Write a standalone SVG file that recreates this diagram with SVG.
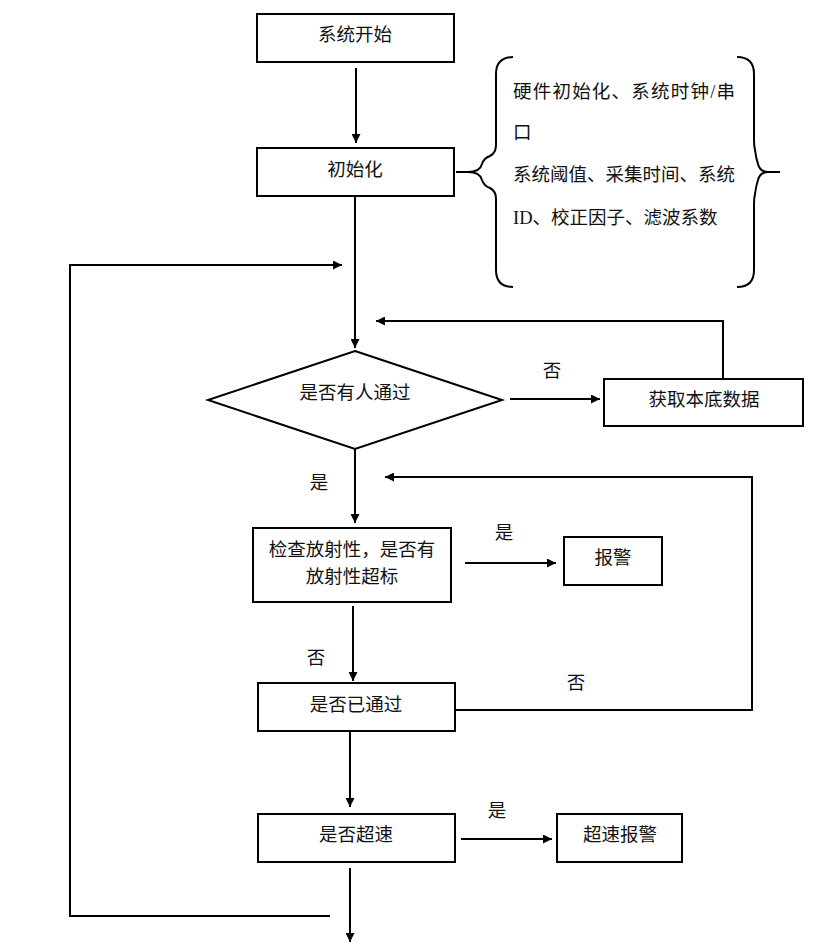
<svg xmlns="http://www.w3.org/2000/svg" width="830" height="947" viewBox="0 0 830 947">
<defs>
<marker id="arr" viewBox="0 0 10 10" refX="10" refY="5" markerWidth="11" markerHeight="9" markerUnits="userSpaceOnUse" orient="auto">
<path d="M0,0 L10,5 L0,10 z" fill="#000"/>
</marker>
<style>
.box{fill:#fff;stroke:#000;stroke-width:2}
.ln{fill:none;stroke:#000;stroke-width:2}
.ar{fill:none;stroke:#000;stroke-width:2;marker-end:url(#arr)}
text{font-family:"Liberation Serif","Noto Sans CJK SC",serif;font-size:18.5px;fill:#111}
.c{text-anchor:middle;dominant-baseline:central}
.l{dominant-baseline:central}
</style>
</defs>
<rect width="830" height="947" fill="#fff"/>
<g id="connectors">
<line class="ar" x1="356" y1="68" x2="356" y2="143"/>
<line class="ar" x1="355" y1="197" x2="355" y2="348"/>
<polyline class="ar" points="330,916 70,916 70,265 342,265"/>
<polyline class="ar" points="723,379 723,321 376,321"/>
<line class="ar" x1="510" y1="399" x2="600" y2="399"/>
<line class="ar" x1="355" y1="449" x2="355" y2="523"/>
<line class="ar" x1="465" y1="563" x2="556" y2="563"/>
<line class="ar" x1="353" y1="606" x2="353" y2="681"/>
<polyline class="ar" points="455,710 752,710 752,477 385,477"/>
<line class="ar" x1="350" y1="732" x2="350" y2="807"/>
<line class="ar" x1="461" y1="839" x2="552" y2="839"/>
<line class="ar" x1="350" y1="868" x2="350" y2="942"/>
<text class="c" x="552" y="371">否</text>
<text class="c" x="319" y="483">是</text>
<text class="c" x="504" y="533">是</text>
<text class="c" x="316" y="658">否</text>
<text class="c" x="576" y="683">否</text>
<text class="c" x="497" y="811">是</text>
</g>
<g id="start">
<rect class="box" x="257" y="14" width="197" height="48"/>
<text class="c" x="355" y="35">系统开始</text>
</g>
<g id="init">
<rect class="box" x="257" y="148" width="197" height="48"/>
<text class="c" x="355" y="170">初始化</text>
</g>
<g id="init-note">
<path class="ln" d="M456,172 H468 Q480,172 482,164 Q484,158 490,156 Q496,153 496,145 V74 Q496,57 513,57"/>
<path class="ln" d="M468,172 Q480,172 482,180 Q484,186 490,188 Q496,191 496,199 V270 Q496,287 513,287"/>
<path class="ln" d="M780,172 H768 Q760,172 758,164 Q756,158 755,150 Q754,146 754,140 V74 Q754,57 737,57"/>
<path class="ln" d="M768,172 Q760,172 758,180 Q756,186 755,194 Q754,198 754,204 V270 Q754,287 737,287"/>
<text class="l" x="513" y="92" textLength="222" lengthAdjust="spacing">硬件初始化、系统时钟/串</text>
<text class="l" x="513" y="133">口</text>
<text class="l" x="513" y="175">系统阈值、采集时间、系统</text>
<text class="l" x="513" y="218">ID、校正因子、滤波系数</text>
</g>
<g id="decision-person">
<polygon class="box" points="355,351 502,400 355,449 208,400"/>
<text class="c" x="355" y="393">是否有人通过</text>
</g>
<g id="background">
<rect class="box" x="604" y="379" width="199" height="47"/>
<text class="c" x="704" y="400">获取本底数据</text>
</g>
<g id="check-radiation">
<rect class="box" x="253" y="528" width="198" height="74"/>
<text class="c" x="352" y="550">检查放射性，是否有</text>
<text class="c" x="352" y="577">放射性超标</text>
</g>
<g id="alarm">
<rect class="box" x="564" y="537" width="98" height="48"/>
<text class="c" x="613" y="558">报警</text>
</g>
<g id="passed">
<rect class="box" x="258" y="683" width="197" height="48"/>
<text class="c" x="356" y="705">是否已通过</text>
</g>
<g id="speeding">
<rect class="box" x="258" y="814" width="197" height="48"/>
<text class="c" x="356" y="835">是否超速</text>
</g>
<g id="speed-alarm">
<rect class="box" x="557" y="814" width="125" height="48"/>
<text class="c" x="620" y="835">超速报警</text>
</g>
</svg>
